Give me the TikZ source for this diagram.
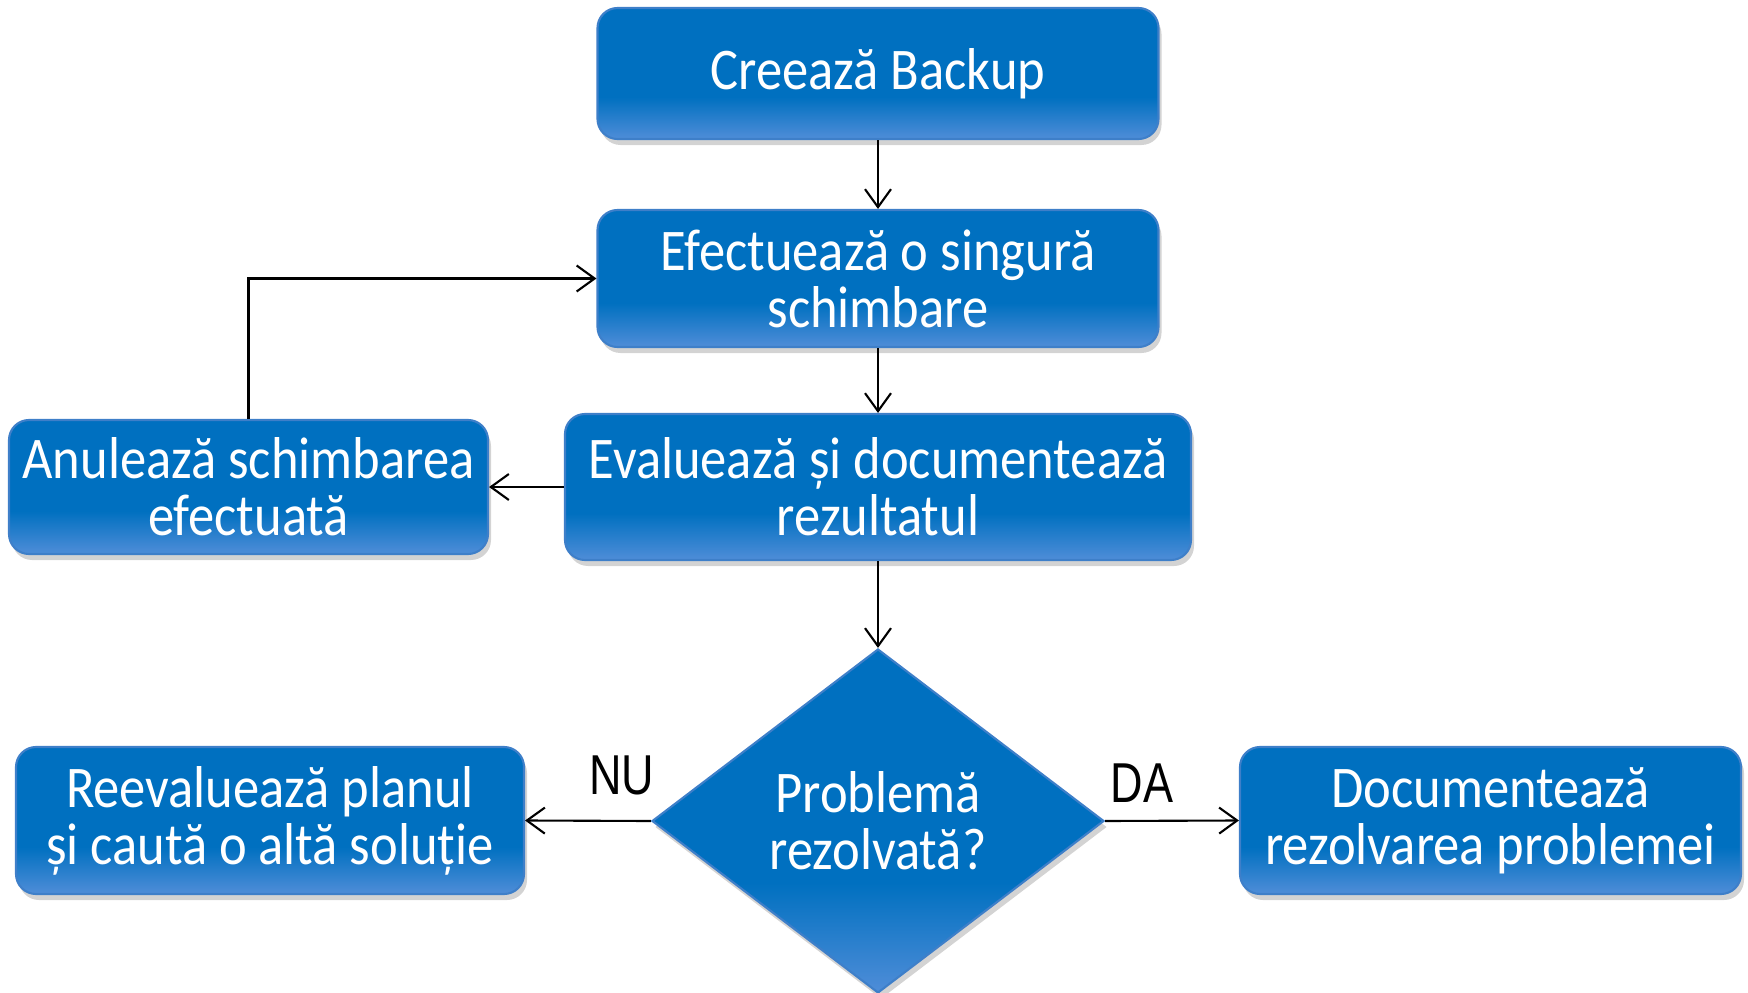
\documentclass[tikz,border=0pt]{standalone}
\usepackage{fontspec}
\setmainfont{Carlito}[FakeStretch=0.89]
\newfontfamily\answerfont{Liberation Sans}[FakeStretch=0.8]
\usetikzlibrary{arrows.meta,shapes.geometric,shadows}
\definecolor{boxblue}{HTML}{0070C0}
\definecolor{boxlight}{HTML}{4F8DD8}
\definecolor{boxedge}{HTML}{3E7FC9}
\pgfdeclareverticalshading{boxfill}{100bp}{color(0bp)=(boxlight); color(25bp)=(boxlight); color(41bp)=(boxblue); color(100bp)=(boxblue)}

\begin{document}
\begin{tikzpicture}[
  stepbox/.style={draw=boxedge, line width=0.6pt, shading=boxfill, rounded corners=0.2cm,
    text=white, align=center, inner sep=0pt, font=\fontsize{16.8}{16.2}\selectfont,
    drop shadow={shadow xshift=0.03cm, shadow yshift=-0.06cm, opacity=0.35}},
  decision/.style={stepbox, diamond, sharp corners, minimum width=4.52cm, minimum height=3.44cm},
  flow/.style={-{Straight Barb[length=1.8mm,width=2.6mm]}, line width=0.6pt},
  answer/.style={font=\answerfont\fontsize{16}{16}\selectfont}
]
\useasboundingbox (0,0) rectangle (17.48,-9.93);
%
\node[stepbox, minimum width=5.61cm, minimum height=1.31cm] (backup) at (8.78,-0.735) {Creează Backup};
\node[stepbox, minimum width=5.61cm, minimum height=1.37cm] (change) at (8.78,-2.785) {Efectuează o singură\\schimbare};
\node[stepbox, minimum width=6.26cm, minimum height=1.46cm] (eval) at (8.78,-4.87) {Evaluează și documentează\\rezultatul};
\node[stepbox, minimum width=4.79cm, minimum height=1.34cm] (undo) at (2.485,-4.87) {Anulează schimbarea\\efectuată};
\node[decision] (solved) at (8.78,-8.21) {Problemă\\rezolvată?};
\node[stepbox, minimum width=5.08cm, minimum height=1.47cm] (replan) at (2.70,-8.205) {Reevaluează planul\\și caută o altă soluție};
\node[stepbox, minimum width=5.01cm, minimum height=1.47cm] (report) at (14.905,-8.205) {Documentează\\rezolvarea problemei};
%
\draw[flow] (backup) -- (change);
\draw[flow] (change) -- (eval);
\draw[flow] (eval.west) -- (undo.east);
\draw[flow] (undo.north) |- (change.west);
\draw[flow] (eval) -- (solved);
\draw[flow] (solved.west) -- (replan.east);
\draw[flow] (solved.east) -- (report.west);
%
\node[answer] (no) at (6.22,-7.75) {NU};
\node[answer] (yes) at (11.42,-7.83) {DA};
\end{tikzpicture}
\end{document}
